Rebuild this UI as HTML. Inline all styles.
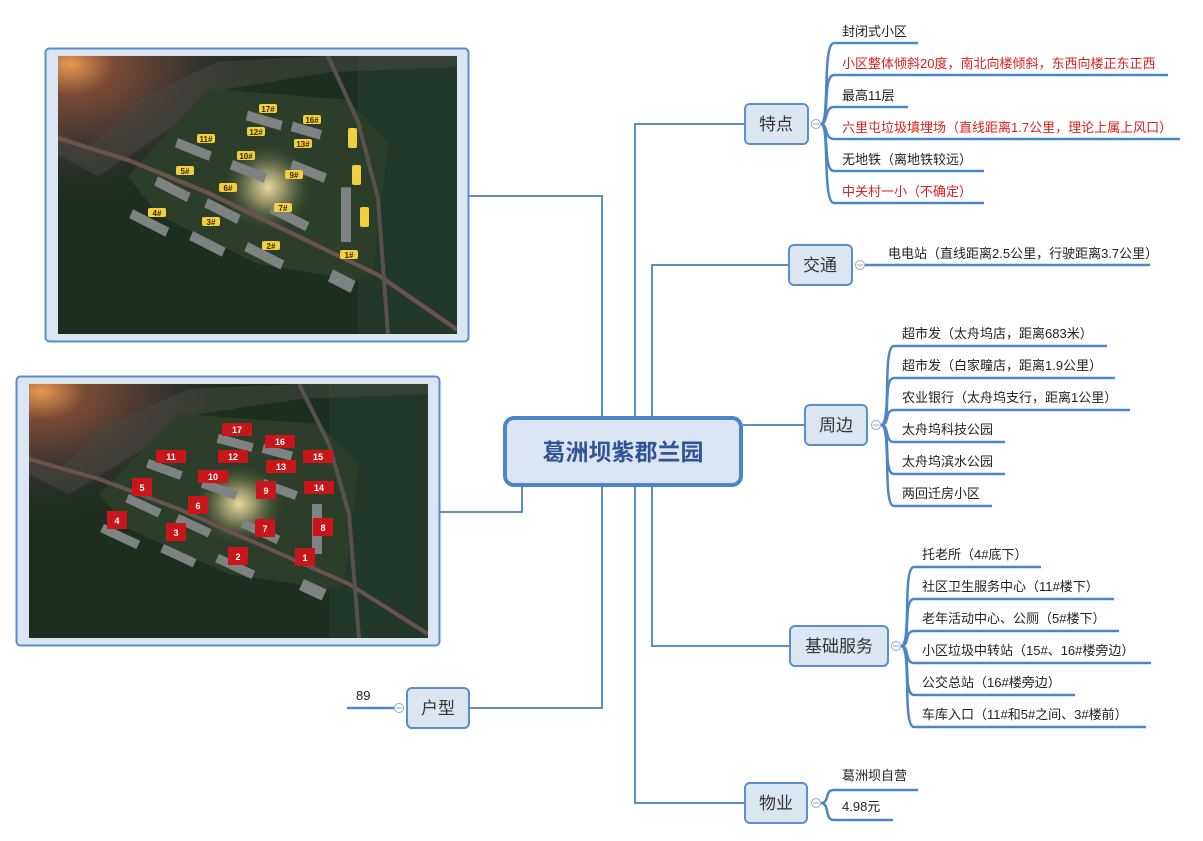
<!DOCTYPE html>
<html><head><meta charset="utf-8"><style>
html,body{margin:0;padding:0;background:#fff;}
svg{display:block;font-family:"Liberation Sans","Noto Sans CJK SC",sans-serif;}
</style></head><body>
<svg width="1203" height="841" viewBox="0 0 1203 841" xmlns="http://www.w3.org/2000/svg">
<defs>
<radialGradient id="glow" cx="0.03" cy="0.03" r="0.55">
<stop offset="0" stop-color="#e89850"/><stop offset="0.2" stop-color="#7a4a35"/><stop offset="0.55" stop-color="#3a3430"/><stop offset="1" stop-color="#1a2a1c" stop-opacity="0"/>
</radialGradient>
<radialGradient id="lite" cx="0.5" cy="0.5" r="0.5">
<stop offset="0" stop-color="#e8d8a0"/><stop offset="0.4" stop-color="#8a8a60"/><stop offset="1" stop-color="#3a4a30" stop-opacity="0"/>
</radialGradient>
<g id="aerial">
<rect x="0" y="0" width="399" height="254" fill="#1c2e20"/>
<rect x="300" y="0" width="99" height="254" fill="#22382a"/>
<rect x="0" y="0" width="399" height="254" fill="url(#glow)"/>
<polygon points="0,70 30,85 80,40 160,5 270,0 399,0 399,10 270,15 170,30 90,80 40,110 0,90" fill="#4a4a42" opacity="0.5"/>
<polygon points="70,110 150,30 290,40 330,80 315,200 300,205 200,190 100,145" fill="#2c3e2a"/>
<ellipse cx="210" cy="120" rx="45" ry="40" fill="url(#lite)"/>
<path d="M0,75 L70,95 L150,125 L320,200 L399,250" stroke="#6a5250" stroke-width="4" fill="none"/>
<path d="M270,0 L300,60 L320,130 L330,254" stroke="#5a5050" stroke-width="4" fill="none"/>
<g fill="#7e8282">
<rect x="190" y="50" width="36" height="9" transform="rotate(15 190 50)"/>
<rect x="235" y="60" width="30" height="9" transform="rotate(15 235 60)"/>
<rect x="120" y="75" width="36" height="9" transform="rotate(20 120 75)"/>
<rect x="175" y="95" width="36" height="9" transform="rotate(20 175 95)"/>
<rect x="235" y="95" width="36" height="9" transform="rotate(20 235 95)"/>
<rect x="100" y="110" width="36" height="9" transform="rotate(25 100 110)"/>
<rect x="150" y="130" width="36" height="9" transform="rotate(25 150 130)"/>
<rect x="215" y="135" width="40" height="9" transform="rotate(25 215 135)"/>
<rect x="75" y="140" width="40" height="9" transform="rotate(25 75 140)"/>
<rect x="135" y="160" width="36" height="9" transform="rotate(25 135 160)"/>
<rect x="190" y="170" width="40" height="9" transform="rotate(25 190 170)"/>
<rect x="275" y="195" width="25" height="12" transform="rotate(25 275 195)"/>
<rect x="283" y="120" width="10" height="50"/>
</g>
</g>
</defs>

<rect x="45.5" y="48.5" width="423" height="293" rx="4" fill="#dce6f2" stroke="#5b8fcb" stroke-width="2"/>
<svg x="58" y="56" width="399" height="278" viewBox="0 0 399 254" preserveAspectRatio="none"><use href="#aerial"/></svg>
<g font-size="8" font-weight="bold" fill="#3a2a00" text-anchor="middle">
<g fill="#f0d040">
<rect x="259" y="104" width="18" height="9" rx="2"/><rect x="303" y="115" width="18" height="9" rx="2"/>
<rect x="197" y="134" width="18" height="9" rx="2"/><rect x="247" y="127" width="18" height="9" rx="2"/>
<rect x="294" y="139" width="18" height="9" rx="2"/><rect x="237" y="151" width="18" height="9" rx="2"/>
<rect x="176" y="166" width="18" height="9" rx="2"/><rect x="285" y="170" width="18" height="9" rx="2"/>
<rect x="219" y="183" width="18" height="9" rx="2"/><rect x="274" y="203" width="18" height="9" rx="2"/>
<rect x="148" y="208" width="18" height="9" rx="2"/><rect x="202" y="217" width="18" height="9" rx="2"/>
<rect x="262" y="241" width="18" height="9" rx="2"/><rect x="340" y="250" width="18" height="9" rx="2"/>
<rect x="348" y="128" width="9" height="20" rx="2"/><rect x="352" y="165" width="9" height="20" rx="2"/><rect x="360" y="207" width="9" height="20" rx="2"/>
</g>
<text x="268" y="112">17#</text><text x="312" y="123">16#</text><text x="206" y="142">11#</text><text x="256" y="135">12#</text>
<text x="303" y="147">13#</text><text x="246" y="159">10#</text><text x="185" y="174">5#</text><text x="294" y="178">9#</text>
<text x="228" y="191">6#</text><text x="283" y="211">7#</text><text x="157" y="216">4#</text><text x="211" y="225">3#</text>
<text x="271" y="249">2#</text><text x="349" y="258">1#</text>
</g>

<rect x="16.5" y="376.5" width="423" height="269" rx="4" fill="#dce6f2" stroke="#5b8fcb" stroke-width="2"/>
<svg x="29" y="384" width="399" height="254" viewBox="0 0 399 254" preserveAspectRatio="none"><use href="#aerial"/></svg>
<g font-size="9" font-weight="bold" fill="#fff" text-anchor="middle">
<g fill="#c8161a">
<rect x="222" y="423" width="30" height="13"/><rect x="265" y="435" width="30" height="13"/><rect x="303" y="450" width="30" height="13"/>
<rect x="156" y="450" width="30" height="13"/><rect x="218" y="450" width="30" height="13"/><rect x="266" y="460" width="30" height="13"/>
<rect x="198" y="470" width="30" height="13"/><rect x="132" y="478" width="20" height="18"/><rect x="304" y="481" width="30" height="13"/>
<rect x="256" y="481" width="20" height="18"/><rect x="188" y="496" width="20" height="18"/><rect x="107" y="511" width="20" height="18"/>
<rect x="166" y="523" width="20" height="18"/><rect x="255" y="519" width="20" height="18"/><rect x="313" y="518" width="20" height="18"/>
<rect x="228" y="547" width="20" height="18"/><rect x="295" y="548" width="20" height="18"/>
</g>
<text x="237" y="433">17</text><text x="280" y="445">16</text><text x="318" y="460">15</text><text x="171" y="460">11</text>
<text x="233" y="460">12</text><text x="281" y="470">13</text><text x="213" y="480">10</text><text x="142" y="491">5</text>
<text x="319" y="491">14</text><text x="266" y="494">9</text><text x="198" y="509">6</text><text x="117" y="524">4</text>
<text x="176" y="536">3</text><text x="265" y="532">7</text><text x="323" y="531">8</text><text x="238" y="560">2</text><text x="305" y="561">1</text>
</g>

<g stroke="#5b8fcb" stroke-width="2" fill="none">
<path d="M469,196 H602 V708 H469"/>
<path d="M745,124 H635 V803 H745"/>
<path d="M789,265 H652 V646 H790"/>
<path d="M743,425 H805"/>
<path d="M440,512 H522 V487"/>
</g>

<rect x="505" y="418" width="236" height="67" rx="9" fill="#dce6f2" stroke="#4a86c8" stroke-width="4"/>
<text x="623" y="460" text-anchor="middle" font-size="23" font-weight="bold" fill="#2f5597">葛洲坝紫郡兰园</text>

<g fill="#dce6f2" stroke="#5b8fcb" stroke-width="2">
<rect x="745" y="104" width="63" height="40" rx="5"/>
<rect x="789" y="245" width="63" height="40" rx="5"/>
<rect x="805" y="405" width="62" height="40" rx="5"/>
<rect x="790" y="626" width="98" height="40" rx="5"/>
<rect x="407" y="688" width="62" height="40" rx="5"/>
<rect x="745" y="783" width="62" height="40" rx="5"/>
</g>
<g font-size="17" fill="#333" text-anchor="middle">
<text x="776" y="130">特点</text><text x="820" y="271">交通</text><text x="836" y="431">周边</text>
<text x="839" y="652">基础服务</text><text x="438" y="714">户型</text><text x="776" y="809">物业</text>
</g>
<g fill="#fff" stroke="#8aa8cc" stroke-width="1">
<circle cx="816" cy="124" r="4.5"/><circle cx="860" cy="265" r="4.5"/><circle cx="876" cy="425" r="4.5"/>
<circle cx="896" cy="646" r="4.5"/><circle cx="399" cy="708" r="4.5"/><circle cx="816" cy="803" r="4.5"/>
</g>
<g stroke="#8aa8cc" stroke-width="1"><path d="M813,124h6M857,265h6M873,425h6M893,646h6M396,708h6M813,803h6"/></g>

<g stroke="#4a86c8" stroke-width="2.5" fill="none">
<path d="M821,124 C830,124 822,43 834,43 H918"/>
<path d="M821,124 C830,124 822,75 834,75 H1168"/>
<path d="M821,124 C828,124 824,107 834,107 H908"/>
<path d="M821,124 C828,124 824,139 834,139 H1180"/>
<path d="M821,124 C830,124 822,171 834,171 H984"/>
<path d="M821,124 C830,124 822,203 834,203 H984"/>
<path d="M865,265 H1150"/>
<path d="M881,425 C892,425 882,346 894,346 H1107"/>
<path d="M881,425 C892,425 882,378 894,378 H1115"/>
<path d="M881,425 C890,425 884,410 894,410 H1130"/>
<path d="M881,425 C890,425 884,442 894,442 H1005"/>
<path d="M881,425 C892,425 882,474 894,474 H1005"/>
<path d="M881,425 C892,425 882,506 894,506 H992"/>
<path d="M901,646 C912,646 902,567 914,567 H1041"/>
<path d="M901,646 C912,646 902,599 914,599 H1114"/>
<path d="M901,646 C910,646 904,631 914,631 H1119"/>
<path d="M901,646 C910,646 904,663 914,663 H1151"/>
<path d="M901,646 C912,646 902,695 914,695 H1075"/>
<path d="M901,646 C912,646 902,727 914,727 H1146"/>
<path d="M394,708 H347"/>
<path d="M821,803 C830,803 824,790 834,790 H918"/>
<path d="M821,803 C830,803 824,820 834,820 H893"/>
</g>

<g font-size="13" fill="#222">
<text x="842" y="36">封闭式小区</text>
<text x="842" y="68" fill="#e0201c">小区整体倾斜20度，南北向楼倾斜，东西向楼正东正西</text>
<text x="842" y="100">最高11层</text>
<text x="842" y="132" fill="#e0201c">六里屯垃圾填埋场（直线距离1.7公里，理论上属上风口）</text>
<text x="842" y="164">无地铁（离地铁较远）</text>
<text x="842" y="196" fill="#e0201c">中关村一小（不确定）</text>
<text x="888" y="258">电电站（直线距离2.5公里，行驶距离3.7公里）</text>
<text x="902" y="338">超市发（太舟坞店，距离683米）</text>
<text x="902" y="370">超市发（白家疃店，距离1.9公里）</text>
<text x="902" y="402">农业银行（太舟坞支行，距离1公里）</text>
<text x="902" y="434">太舟坞科技公园</text>
<text x="902" y="466">太舟坞滨水公园</text>
<text x="902" y="498">两回迁房小区</text>
<text x="922" y="559">托老所（4#底下）</text>
<text x="922" y="591">社区卫生服务中心（11#楼下）</text>
<text x="922" y="623">老年活动中心、公厕（5#楼下）</text>
<text x="922" y="655">小区垃圾中转站（15#、16#楼旁边）</text>
<text x="922" y="687">公交总站（16#楼旁边）</text>
<text x="922" y="719">车库入口（11#和5#之间、3#楼前）</text>
<text x="356" y="700">89</text>
<text x="842" y="780">葛洲坝自营</text>
<text x="842" y="811">4.98元</text>
</g>
</svg>
</body></html>
